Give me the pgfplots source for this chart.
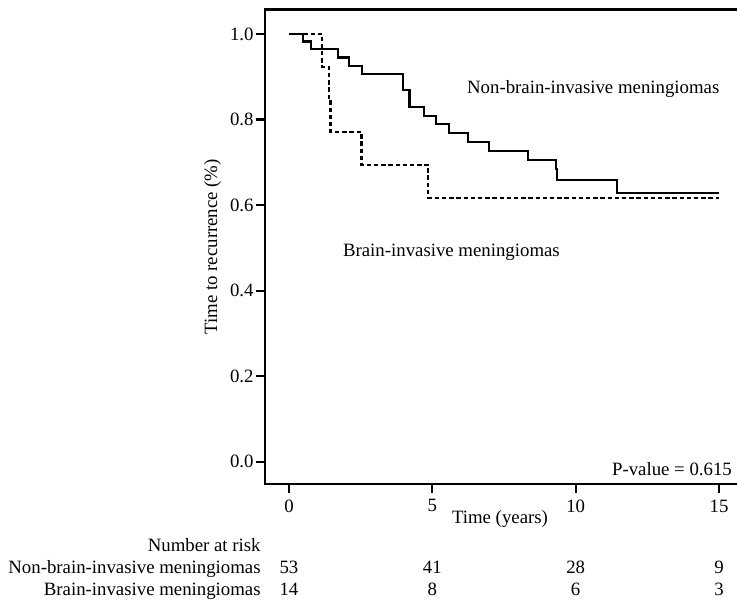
\documentclass[border=0pt]{standalone}
\usepackage{fontspec}
\setmainfont{Liberation Serif}
\usepackage{pgfplots}
\pgfplotsset{compat=1.18}

\begin{document}
\fontsize{9.4}{11.3}\selectfont
\begin{tikzpicture}[font=\fontsize{9.4}{11.3}\selectfont]
\begin{axis}[
    scale only axis,
    width=237.5pt, height=237.25pt,
    xmin=-0.837, xmax=15.731,
    ymin=-0.052, ymax=1.057,
    xtick={0,5,10,15},
    ytick={0,0.2,0.4,0.6,0.8,1.0},
    yticklabel style={inner xsep=1pt, /pgf/number format/.cd, fixed, fixed zerofill, precision=1},
    /pgf/number format/assume math mode=true,
    xtick pos=bottom, ytick pos=left,
    tick align=outside,
    major tick length=4.5pt,
    tick style={black, line width=1.1pt},
    axis line style={line width=1.1pt},
    xlabel={Time (years)},
    ylabel={Time to recurrence (\%)},
    xlabel style={at={(axis description cs:0.4947,0)}, anchor=base, yshift=-19.5pt, inner sep=0pt},
    ylabel style={at={([xshift=-26.25pt]axis description cs:0,0.5)}, anchor=center},
    clip=false,
]
% non-brain-invasive (solid)
\addplot[black, line width=1.1pt, const plot, mark=none] coordinates {
    (0,1.0) (0.50,0.982) (0.77,0.964) (1.72,0.945) (2.10,0.925) (2.56,0.906)
    (3.99,0.868) (4.20,0.829) (4.71,0.808) (5.13,0.789) (5.59,0.769)
    (6.25,0.748) (6.98,0.727) (8.33,0.705) (9.31,0.684) (9.36,0.659)
    (11.43,0.629) (15.0,0.629)
};
% brain-invasive (dashed)
\addplot[black, line width=1.1pt, dash pattern=on 2.2pt off 1.4pt, const plot, mark=none] coordinates {
    (0,1.0) (1.16,0.923) (1.40,0.846) (1.45,0.771) (2.53,0.694)
    (4.86,0.617) (15.0,0.617)
};

\node[anchor=west, inner sep=0pt] at (axis cs:6.20,0.871) {Non-brain-invasive meningiomas};
\node[anchor=west, inner sep=0pt] at (axis cs:1.873,0.489) {Brain-invasive meningiomas};
\node[anchor=base east, inner sep=0pt] at (axis cs:15.46,-0.0327) {P-value = 0.615};

% number at risk
\node[anchor=base east, inner sep=0pt] at ([xshift=-2pt,yshift=-33.85pt]rel axis cs:0,0) {Number at risk};
\node[anchor=base east, inner sep=0pt] at ([xshift=-2pt,yshift=-44.65pt]rel axis cs:0,0) {Non-brain-invasive meningiomas};
\node[anchor=base east, inner sep=0pt] at ([xshift=-2pt,yshift=-55.5pt]rel axis cs:0,0) {Brain-invasive meningiomas};
\node[anchor=base, inner sep=0pt] at ([yshift=-44.65pt]axis cs:0,-0.052) {53};
\node[anchor=base, inner sep=0pt] at ([yshift=-44.65pt]axis cs:5,-0.052) {41};
\node[anchor=base, inner sep=0pt] at ([yshift=-44.65pt]axis cs:10,-0.052) {28};
\node[anchor=base, inner sep=0pt] at ([yshift=-44.65pt]axis cs:15,-0.052) {9};
\node[anchor=base, inner sep=0pt] at ([yshift=-55.5pt]axis cs:0,-0.052) {14};
\node[anchor=base, inner sep=0pt] at ([yshift=-55.5pt]axis cs:5,-0.052) {8};
\node[anchor=base, inner sep=0pt] at ([yshift=-55.5pt]axis cs:10,-0.052) {6};
\node[anchor=base, inner sep=0pt] at ([yshift=-55.5pt]axis cs:15,-0.052) {3};
\end{axis}
\pgfresetboundingbox
\path (-132.5pt,-58.5pt) rectangle (236pt,242pt);
\end{tikzpicture}
\end{document}
